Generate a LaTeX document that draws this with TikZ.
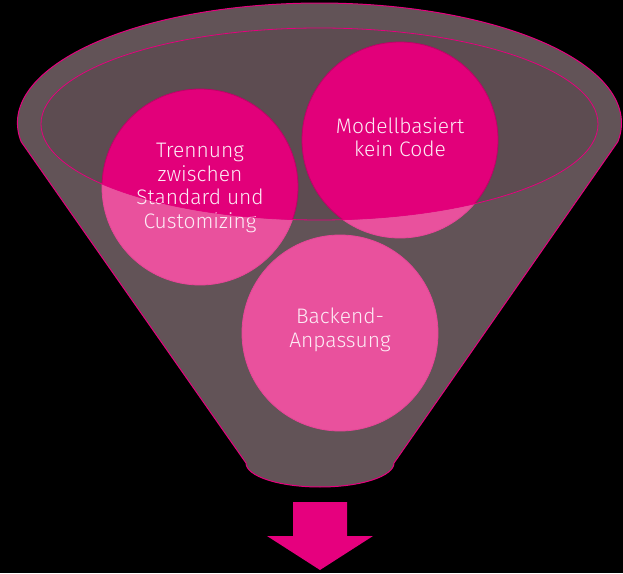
\documentclass[tikz,border=0pt]{standalone}
\usepackage{fontspec}
\setmainfont{Fira Sans}[UprightFont=* Light]
\definecolor{funnelgrey}{RGB}{98,83,87}
\definecolor{innergrey}{RGB}{93,76,81}
\definecolor{tmagenta}{RGB}{226,0,122}
\definecolor{edgemagenta}{RGB}{230,0,126}
\definecolor{lightpink}{RGB}{233,81,157}
\definecolor{textpink}{RGB}{253,236,245}
\begin{document}
\begin{tikzpicture}[x=1pt, y=1pt,
        bubbletext/.style={text=textpink, align=center, font=\fontsize{21}{23.5}\selectfont}]
            \fill [black] (0,0) rectangle (623,573);
            \useasboundingbox (0,0) rectangle (623,573);
            \filldraw [fill=funnelgrey, draw=edgemagenta, line width=1pt] (21.2,431.2)
                arc [start angle=189, end angle=-9, x radius=302, y radius=120]
                -- (394,110) arc [start angle=0, end angle=-180, x radius=74, y radius=24] -- cycle;
            \foreach \x/\y in {200/386, 400/433, 340/240}
                \filldraw [fill=lightpink, draw=lightpink!85!tmagenta, line width=0.8pt] (\x,\y) circle (98);
            \begin{scope}
                \clip (319.5,449) ellipse [x radius=278.5, y radius=96];
                \fill [innergrey] (319.5,449) ellipse [x radius=278.5, y radius=96];
                \foreach \x/\y in {200/386, 400/433, 340/240}
                    \filldraw [fill=tmagenta, draw=tmagenta!85!black, line width=0.8pt] (\x,\y) circle (98);
            \end{scope}
            \node [bubbletext] (trennung) at (200,385) {Trennung\\zwischen\\Standard und\\Customizing};
            \node [bubbletext] (modell) at (400,436) {Modellbasiert\\kein Code};
            \node [bubbletext] (backend) at (340,243) {Backend-\\Anpassung};
            \draw [edgemagenta, line width=0.8pt] (319.5,449) ellipse [x radius=278.5, y radius=96];
            \fill [edgemagenta] (293,71) -- (347,71) -- (347,37) -- (373,37) -- (320,3) -- (267,37) -- (293,37) -- cycle;
        \end{tikzpicture}
\end{document}
